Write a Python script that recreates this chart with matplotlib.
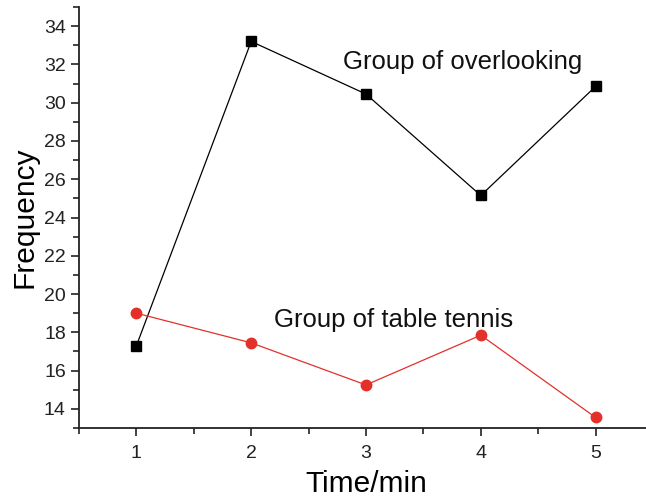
import matplotlib
matplotlib.use("Agg")
import matplotlib.pyplot as plt
from matplotlib.ticker import MultipleLocator

plt.rcParams['font.family'] = ['Liberation Sans', 'DejaVu Sans']

# data
time_min = [1, 2, 3, 4, 5]
overlooking = [17.3, 33.2, 30.45, 25.15, 30.85]
table_tennis = [19.0, 17.45, 15.25, 17.85, 13.55]

fig = plt.figure(figsize=(6.46, 4.99), dpi=100)
ax = fig.add_axes([79 / 646, 71 / 499, 574 / 646, 421 / 499])

ax.plot(time_min, overlooking, color='black', lw=0.9, marker='s', ms=7)
ax.plot(time_min, table_tennis, color='#e3302a', lw=0.9, marker='o', ms=7.5)

ax.text(3.84, 32.15, "Group of overlooking", fontsize=18.5, ha='center', va='center', color='#111111')
ax.text(3.24, 18.65, "Group of table tennis", fontsize=18.5, ha='center', va='center', color='#111111')

ax.set_xlim(0.5, 5.5)
ax.set_ylim(13, 35)
ax.xaxis.set_major_locator(MultipleLocator(1))
ax.xaxis.set_minor_locator(MultipleLocator(0.5))
ax.yaxis.set_major_locator(MultipleLocator(2))
ax.yaxis.set_minor_locator(MultipleLocator(1))

ax.spines['top'].set_visible(False)
ax.spines['right'].set_visible(False)
for s in ['left', 'bottom']:
    ax.spines[s].set_linewidth(1.3)
    ax.spines[s].set_color('#222222')

ax.tick_params(which='major', direction='out', length=6, width=1.2, labelsize=14, colors='#222222')
ax.tick_params(which='minor', direction='out', length=4, width=1.2, colors='#222222')
ax.tick_params(axis='x', pad=6)

ax.set_xlabel("Time/min", fontsize=21.5, labelpad=6)
ax.set_ylabel("Frequency", fontsize=21.5, labelpad=4)

plt.savefig("out.png", dpi=100)
plt.close()
